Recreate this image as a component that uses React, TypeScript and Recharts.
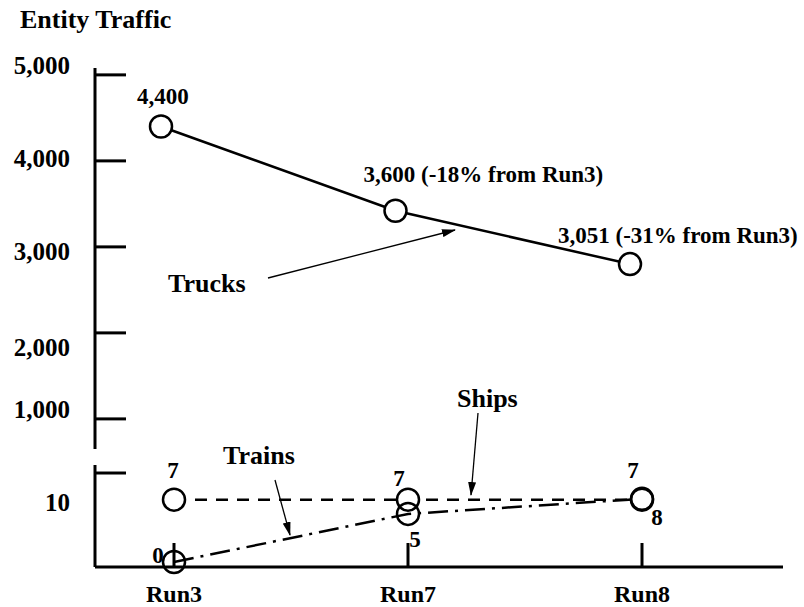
import { LineChart, Line, XAxis, YAxis, LabelList } from 'recharts';

const FONT = '"Liberation Serif", "Times New Roman", serif';

// categories + values
const runs = ['Run3', 'Run7', 'Run8'];
const trucks = [4400, 3420, 2800];
const truckLabels = ['4,400', '3,600 (-18% from Run3)', '3,051 (-31% from Run3)'];
const ships = [7, 7, 7];
const shipLabels = ['7', '7', '7'];
const trains = [0, 5.4, 7.1];
const trainLabels = ['0', '5', '8'];
const upperTicks = [1000, 2000, 3000, 4000, 5000];
const lowerTicks = [10];

const upperData = runs.map((run, i) => ({ run, trucks: trucks[i] }));
const lowerData = runs.map((run, i) => ({ run, ships: ships[i], trains: trains[i] }));

const txt = { fontFamily: FONT, fontWeight: 'bold' as const, fill: '#000' };

// tick labels in the original sit a little off their tick marks
const upperLabelDy: Record<number, number> = { 1000: -9, 2000: 15, 3000: 5, 4000: -2, 5000: -9 };

function YTick(props: any) {
  const { x, y, payload, labelDy = 0 } = props;
  return (
    <g>
      <line x1={x} y1={y} x2={x + 31} y2={y} stroke="#000" strokeWidth={3} />
      <text x={x - 25} y={y + labelDy} textAnchor="end" dominantBaseline="central" fontSize={25} {...txt}>
        {Number(payload.value).toLocaleString('en-US')}
      </text>
    </g>
  );
}

function XTick(props: any) {
  const { x, y, payload } = props;
  return (
    <g>
      <line x1={x} y1={y} x2={x} y2={y - 24} stroke="#000" strokeWidth={3} />
      <text x={x} y={y + 35} textAnchor="middle" fontSize={24} {...txt}>
        {payload.value}
      </text>
    </g>
  );
}

function makeLabel(texts: string[], dxs: number[], dys: number[], anchor: 'start' | 'middle') {
  return (props: any) => {
    const vb = props.viewBox || {};
    const x = vb.x ?? props.x;
    const y = vb.y ?? props.y;
    const i = props.index ?? 0;
    return (
      <text x={x + dxs[i]} y={y + dys[i]} textAnchor={anchor} dominantBaseline="central" fontSize={23} {...txt}>
        {texts[i]}
      </text>
    );
  };
}

function Annotations() {
  return (
    <svg width={804} height={607} style={{ position: 'absolute', left: 0, top: 0, pointerEvents: 'none' }}>
      <defs>
        <marker id="head" markerWidth="14" markerHeight="8" refX="13" refY="4" orient="auto" markerUnits="userSpaceOnUse">
          <path d="M0,0 L14,4 L0,8 Z" fill="#000" />
        </marker>
      </defs>
      <text x={20} y={28} fontSize={26} {...txt}>Entity Traffic</text>
      <text x={168} y={292} fontSize={26} {...txt}>Trucks</text>
      <line x1={268} y1={278} x2={455} y2={230} stroke="#000" strokeWidth={1.3} markerEnd="url(#head)" />
      <text x={457} y={407} fontSize={26} {...txt}>Ships</text>
      <line x1={478} y1={413} x2={471} y2={495} stroke="#000" strokeWidth={1.3} markerEnd="url(#head)" />
      <text x={223} y={464} fontSize={26} {...txt}>Trains</text>
      <line x1={275} y1={480} x2={290} y2={535} stroke="#000" strokeWidth={1.3} markerEnd="url(#head)" />
    </svg>
  );
}

export default function App() {
  return (
    <div style={{ position: 'absolute', left: 0, top: 0, width: 804, height: 607, background: '#fff' }}>
      <div style={{ position: 'absolute', left: 0, top: 0 }}>
        <LineChart width={804} height={460} data={upperData} margin={{ top: 68, right: 21, bottom: 11, left: 0 }}>
          <XAxis dataKey="run" hide padding={{ left: 66, right: 153 }} />
          <YAxis
            width={95}
            domain={[650, 5080]}
            ticks={upperTicks}
            axisLine={{ stroke: '#000', strokeWidth: 3 }}
            tickLine={false}
            tickSize={0}
            tickMargin={0}
            tick={(p: any) => <YTick {...p} labelDy={upperLabelDy[p.payload.value] ?? 0} />}
          />
          <Line
            type="linear"
            dataKey="trucks"
            stroke="#000"
            strokeWidth={2.5}
            dot={{ r: 11, fill: '#fff', stroke: '#000', strokeWidth: 2.5 }}
            isAnimationActive={false}
          >
            <LabelList dataKey="trucks" content={makeLabel(truckLabels, [-24, -32, -72], [-30, -36, -29], 'start')} />
          </Line>
        </LineChart>
      </div>
      <div style={{ position: 'absolute', left: 0, top: 0 }}>
        <LineChart width={804} height={607} data={lowerData} margin={{ top: 465, right: 21, bottom: 0, left: 0 }}>
          <XAxis
            dataKey="run"
            height={40}
            padding={{ left: 79, right: 141 }}
            axisLine={{ stroke: '#000', strokeWidth: 3 }}
            tickLine={false}
            tickSize={0}
            tickMargin={0}
            tick={(p: any) => <XTick {...p} />}
          />
          <YAxis
            width={95}
            domain={[-0.56, 10.9]}
            ticks={lowerTicks}
            axisLine={{ stroke: '#000', strokeWidth: 3 }}
            tickLine={false}
            tickSize={0}
            tickMargin={0}
            tick={(p: any) => <YTick {...p} labelDy={29} />}
          />
          <Line
            type="linear"
            dataKey="ships"
            stroke="#000"
            strokeWidth={2.5}
            strokeDasharray="12 9"
            dot={{ r: 11, fill: '#fff', stroke: '#000', strokeWidth: 2.5, strokeDasharray: '' }}
            isAnimationActive={false}
          >
            <LabelList dataKey="ships" content={makeLabel(shipLabels, [-1, -9, -9], [-29, -21, -29], 'middle')} />
          </Line>
          <Line
            type="linear"
            dataKey="trains"
            stroke="#000"
            strokeWidth={2.5}
            strokeDasharray="20 7 3 7"
            dot={{ r: 11, fill: 'none', stroke: '#000', strokeWidth: 2.5, strokeDasharray: '' }}
            isAnimationActive={false}
          >
            <LabelList dataKey="trains" content={makeLabel(trainLabels, [-16, 7, 15], [-7, 26, 19], 'middle')} />
          </Line>
        </LineChart>
      </div>
      <Annotations />
    </div>
  );
}
